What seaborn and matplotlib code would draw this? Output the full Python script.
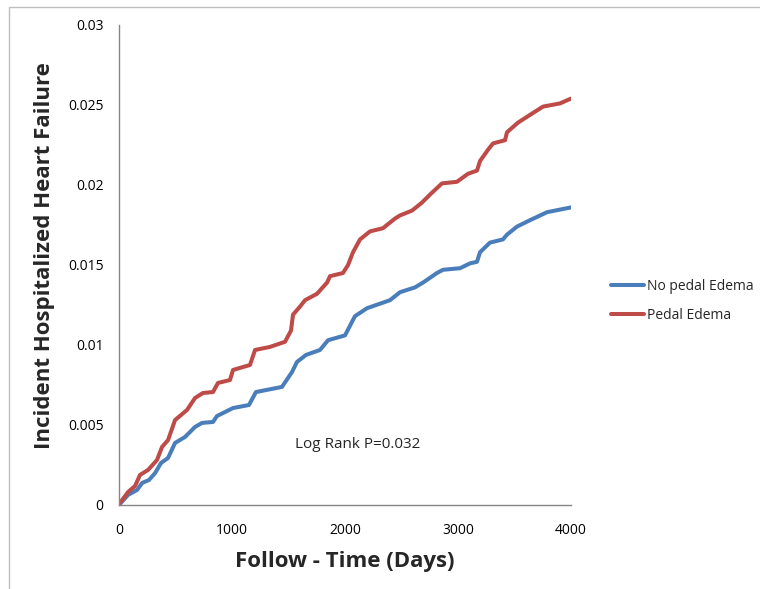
import pandas as pd
import seaborn as sns
import matplotlib.pyplot as plt
from matplotlib.patches import Rectangle

# Curves (days, cumulative incidence)
days_no_edema = [0, 80, 160, 205, 265, 320, 372, 434, 496, 584, 673, 735, 832, 867,
                 1009, 1150, 1212, 1442, 1531, 1575, 1655, 1779, 1850, 2000, 2088,
                 2195, 2398, 2487, 2619, 2690, 2814, 2867, 3018, 3106, 3168, 3195,
                 3283, 3398, 3434, 3522, 3637, 3788, 4000]
hf_no_edema = [0, 0.00063, 0.00094, 0.00138, 0.00156, 0.0020, 0.00263, 0.00294,
               0.00388, 0.00425, 0.00488, 0.00513, 0.00519, 0.00556, 0.00606,
               0.00625, 0.00706, 0.00738, 0.00831, 0.00894, 0.00938, 0.00969,
               0.0103, 0.0106, 0.0118, 0.0123, 0.0128, 0.0133, 0.0136, 0.0139,
               0.0145, 0.0147, 0.0148, 0.0151, 0.0152, 0.0158, 0.0164, 0.0166,
               0.0169, 0.0174, 0.0178, 0.0183, 0.0186]

days_edema = [0, 9, 80, 142, 186, 257, 336, 381, 434, 496, 602, 673, 743, 832, 876,
              982, 1009, 1159, 1204, 1336, 1469, 1522, 1540, 1602, 1646, 1752, 1841,
              1867, 1982, 2027, 2071, 2133, 2221, 2336, 2442, 2487, 2593, 2681, 2752,
              2858, 2991, 3088, 3168, 3195, 3265, 3310, 3416, 3434, 3531, 3619, 3752,
              3903, 4000]
hf_edema = [0, 0.00013, 0.00081, 0.00119, 0.00188, 0.00219, 0.00281, 0.00363,
            0.00406, 0.00531, 0.00594, 0.00669, 0.0070, 0.00706, 0.00763, 0.00781,
            0.00844, 0.00875, 0.00969, 0.00988, 0.0102, 0.0109, 0.0119, 0.0124,
            0.0128, 0.0132, 0.0139, 0.0143, 0.0145, 0.0150, 0.0158, 0.0166, 0.0171,
            0.0173, 0.0179, 0.0181, 0.0184, 0.0189, 0.0194, 0.0201, 0.0202, 0.0207,
            0.0209, 0.0215, 0.0222, 0.0226, 0.0228, 0.0233, 0.0239, 0.0243, 0.0249,
            0.0251, 0.0254]

groups = ["No pedal Edema", "Pedal Edema"]
colors = ["#4a7ebb", "#be4b48"]
x_ticks = [0, 1000, 2000, 3000, 4000]
y_ticks = [0, 0.005, 0.01, 0.015, 0.02, 0.025, 0.03]
y_tick_labels = ["0", "0.005", "0.01", "0.015", "0.02", "0.025", "0.03"]

df = pd.concat([
    pd.DataFrame({"days": days_no_edema, "hf": hf_no_edema, "group": groups[0]}),
    pd.DataFrame({"days": days_edema, "hf": hf_edema, "group": groups[1]}),
])

sns.set_style("white")
plt.rcParams["font.family"] = ["Open Sans", "DejaVu Sans"]

fig = plt.figure(figsize=(7.6, 5.89), dpi=100)
ax = fig.add_axes([119 / 760, 1 - 505 / 589, (571 - 119) / 760, (505 - 25) / 589])

sns.lineplot(data=df, x="days", y="hf", hue="group", hue_order=groups,
             palette=colors, linewidth=2.9, estimator=None, sort=False, ax=ax)

ax.set_xlim(0, 4000)
ax.set_ylim(0, 0.03)
ax.set_xticks(x_ticks)
ax.set_xticklabels([str(t) for t in x_ticks])
ax.set_yticks(y_ticks)
ax.set_yticklabels(y_tick_labels)

grey = "#868686"
for side in ["top", "right"]:
    ax.spines[side].set_visible(False)
for side in ["left", "bottom"]:
    ax.spines[side].set_color(grey)
    ax.spines[side].set_linewidth(1)
ax.tick_params(axis="both", which="major", direction="out", length=5, width=1,
               color=grey, labelsize=10, labelcolor="black", pad=6)
ax.tick_params(axis="x", pad=8)

ax.set_xlabel("Follow - Time (Days)", fontsize=16, fontweight="bold", labelpad=9)
ax.set_ylabel("Incident Hospitalized Heart Failure", fontsize=16,
              fontweight="bold", labelpad=8)
ax.yaxis.set_label_coords(-0.142, 0.52)

ax.text(1560, 0.00375, "Log Rank P=0.032", fontsize=11, va="center", ha="left")

ax.legend(loc="center left", bbox_to_anchor=(605 / 760, 1 - 301 / 589),
          bbox_transform=fig.transFigure, frameon=False, fontsize=10,
          handlelength=2.4, handletextpad=0.2, labelspacing=1.0, borderaxespad=0)

# outer chart-area border (cropped on right and bottom)
fig.patches.append(Rectangle((9 / 760, -0.2), 1.5, 1 - 7 / 589 + 0.2,
                             transform=fig.transFigure, fill=False,
                             edgecolor="#bfbfbf", linewidth=1))

fig.savefig("out.png", dpi=100)
